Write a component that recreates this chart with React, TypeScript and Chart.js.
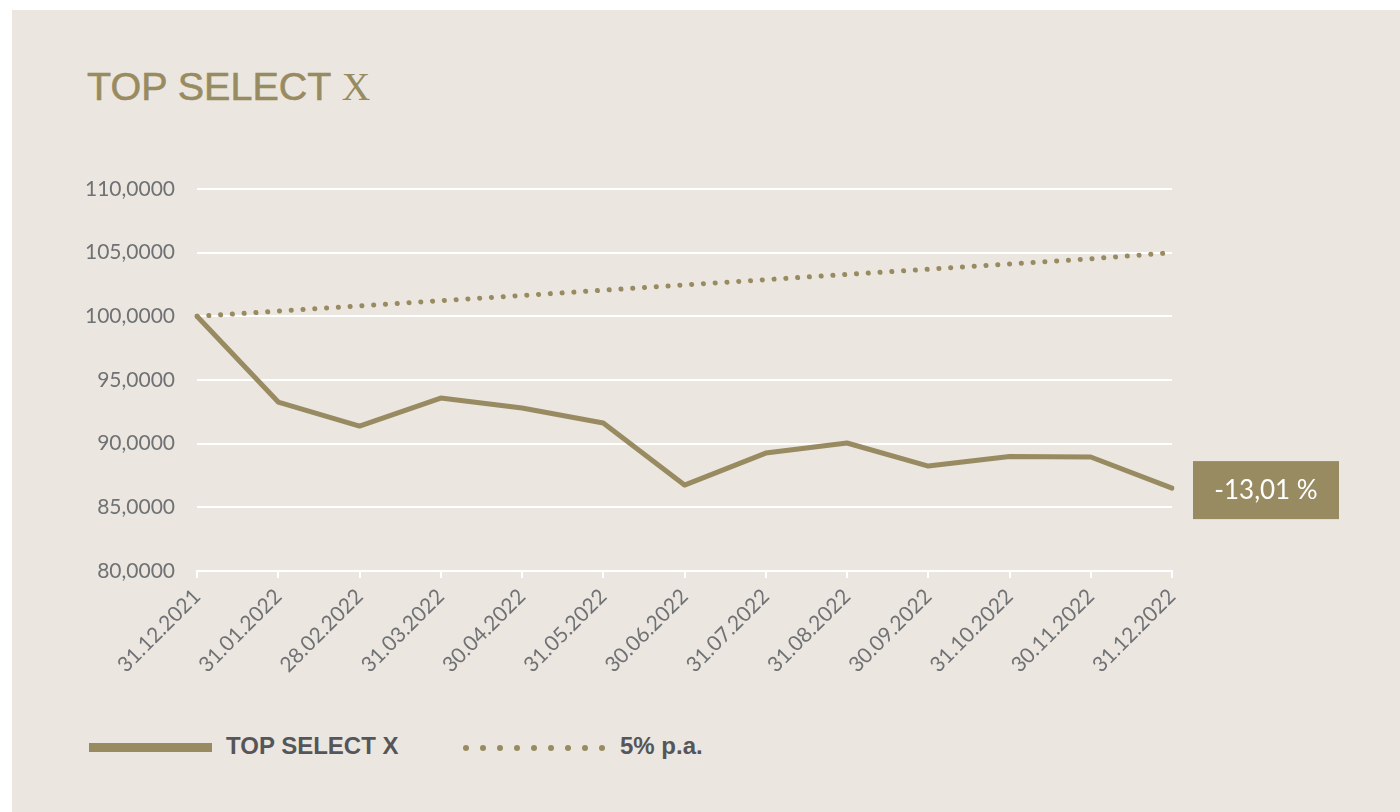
import React, { useEffect, useRef } from "react";
import { Chart, registerables } from "chart.js";

Chart.register(...registerables);

const categories = [
  "31.12.2021", "31.01.2022", "28.02.2022", "31.03.2022", "30.04.2022", "31.05.2022",
  "30.06.2022", "31.07.2022", "31.08.2022", "30.09.2022", "31.10.2022", "30.11.2022", "31.12.2022",
];
const fundValues = [100, 93.27, 91.38, 93.58, 92.8, 91.62, 86.75, 89.26, 90.05, 88.24, 89.0, 88.95, 86.51];
const benchmarkValues = [100, 100.41, 100.82, 101.23, 101.64, 102.05, 102.47, 102.88, 103.29, 103.7, 104.11, 104.52, 105.0];
const fundLabel = "TOP SELECT X";
const benchLabel = "5% p.a.";
const resultLabel = "-13,01 %";
const yMin = 80;
const yMax = 110;
const yStep = 5;

const GOLD = "#998B61";
const BG = "#EBE7E0";
const TICK_COLOR = "#707174";

const resultBoxPlugin = {
  id: "resultBox",
  afterDatasetsDraw(chart: any) {
    const meta = chart.getDatasetMeta(0);
    const last = meta.data[meta.data.length - 1];
    if (!last) return;
    const ctx = chart.ctx;
    const x = chart.chartArea.right + 21;
    const w = 146;
    const h = 58;
    const y = last.y + 2 - h / 2;
    ctx.save();
    ctx.fillStyle = GOLD;
    ctx.fillRect(x, y, w, h);
    ctx.fillStyle = "#FFFFFF";
    ctx.font = "26px Lato";
    ctx.textAlign = "center";
    ctx.textBaseline = "middle";
    ctx.fillText(resultLabel, x + w / 2, y + h / 2 + 1);
    ctx.restore();
  },
};

export default function App() {
  const canvasRef = useRef<HTMLCanvasElement>(null);

  useEffect(() => {
    if (!canvasRef.current) return;
    const chart = new Chart(canvasRef.current, {
      type: "line",
      data: {
        labels: categories,
        datasets: [
          {
            label: fundLabel,
            data: fundValues,
            borderColor: GOLD,
            borderWidth: 5,
            pointRadius: 0,
            tension: 0,
            borderCapStyle: "round",
            borderJoinStyle: "round",
          },
          {
            label: benchLabel,
            data: benchmarkValues,
            borderColor: GOLD,
            borderWidth: 5,
            borderDash: [0.1, 11.7],
            borderCapStyle: "round",
            pointRadius: 0,
            tension: 0,
          },
        ],
      },
      options: {
        animation: false,
        responsive: false,
        maintainAspectRatio: false,
        layout: { padding: { top: 39, right: 228, bottom: 0, left: 0 } },
        plugins: {
          legend: { display: false },
          tooltip: { enabled: false },
          title: { display: false },
        },
        scales: {
          x: {
            afterFit: (scale: any) => {
              scale.height = 129;
            },
            grid: {
              drawOnChartArea: false,
              drawTicks: true,
              tickLength: 7,
              color: "#FFFFFF",
              lineWidth: 2,
            },
            border: { display: true, color: "#FFFFFF", width: 2 },
            ticks: {
              color: TICK_COLOR,
              font: { family: "Lato", size: 21 },
              maxRotation: 45,
              minRotation: 45,
              padding: 6,
              autoSkip: false,
            },
          },
          y: {
            min: yMin,
            max: yMax,
            afterFit: (scale: any) => {
              scale.width = 137;
            },
            grid: {
              color: "#FFFFFF",
              lineWidth: 2,
              drawTicks: false,
            },
            border: { display: false },
            ticks: {
              stepSize: yStep,
              color: TICK_COLOR,
              font: { family: "Lato", size: 21 },
              padding: 22,
              callback: (v: any) => Number(v).toFixed(4).replace(".", ","),
            },
          },
        },
      },
      plugins: [resultBoxPlugin],
    });
    return () => chart.destroy();
  }, []);

  const dots = Array.from({ length: 9 });

  const legendText: React.CSSProperties = {
    position: "absolute",
    top: 733,
    fontFamily: "'Liberation Sans', Arial, sans-serif",
    fontWeight: "bold",
    fontSize: 24,
    lineHeight: "26px",
    color: "#555659",
    whiteSpace: "nowrap",
  };

  return (
    <div style={{ position: "fixed", left: 0, top: 0, width: 1400, height: 812, background: "#FFFFFF", overflow: "hidden" }}>
      <div style={{ position: "absolute", left: 12, top: 10, width: 1388, height: 802, background: BG }} />
      <div
        style={{
          position: "absolute",
          left: 87,
          top: 61,
          color: GOLD,
          fontFamily: "'Liberation Sans', Arial, sans-serif",
          fontSize: 39.5,
          lineHeight: "50px",
          whiteSpace: "nowrap",
          WebkitTextStroke: `0.6px ${GOLD}`,
        }}
      >
        TOP SELECT <span style={{ fontFamily: "'Liberation Serif', 'Times New Roman', serif", WebkitTextStroke: "0px" }}>X</span>
      </div>
      <canvas
        ref={canvasRef}
        width={1340}
        height={550}
        style={{ position: "absolute", left: 60, top: 150, width: 1340, height: 550 }}
      />
      <div style={{ position: "absolute", left: 89, top: 743, width: 123, height: 9, background: GOLD }} />
      <div style={{ ...legendText, left: 226 }}>{fundLabel}</div>
      <div style={{ position: "absolute", left: 463, top: 745, display: "flex", gap: 11 }}>
        {dots.map((_, i) => (
          <div key={i} style={{ width: 6, height: 6, borderRadius: 3, background: GOLD }} />
        ))}
      </div>
      <div style={{ ...legendText, left: 620 }}>{benchLabel}</div>
    </div>
  );
}
